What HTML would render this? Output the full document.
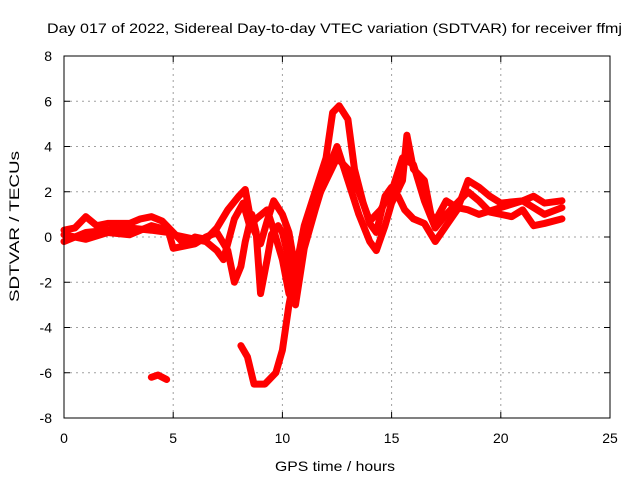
<!DOCTYPE html>
<html><head><meta charset="utf-8"><style>
body{margin:0;background:#fff}
svg text{font-family:"Liberation Sans",sans-serif;font-size:14px;fill:#000}
</style></head><body>
<svg id="c" width="640" height="480"></svg>
<script>
const xTicks=[0,5,10,15,20,25];
const yTicks=[-8,-6,-4,-2,0,2,4,6,8];
const trace1=[[0,0.3],[0.5,0.4],[1,0.9],[1.5,0.5],[2,0.6],[3,0.6],[3.5,0.8],[4,0.9],[4.5,0.7],[5,0.2],[5.5,-0.3],[6,0],[6.5,-0.1],[7,0.4],[7.5,1.2],[8,1.8],[8.3,2.1],[8.6,0.5],[9,-0.3],[9.3,0.7],[9.6,1.6],[10,1.0],[10.3,0.2],[10.6,-1.5],[11,0.5],[11.5,2],[12,3.5],[12.3,5.5],[12.6,5.8],[13,5.2],[13.3,3],[13.7,1.5],[14,0.6],[14.3,0.2],[14.7,1.8],[15,2.2],[15.3,1.8],[15.6,1.2],[16,0.8],[16.5,0.6],[17,-0.2],[17.5,0.5],[18,1.2],[18.5,2.5],[19,2.2],[19.5,1.8],[20,1.5],[21,1.6],[21.5,1.8],[22,1.5],[22.8,1.6]];
const trace2=[[0,-0.2],[1,0.2],[2,0.3],[3,0.4],[4,0.3],[4.8,0.2],[5,-0.5],[6,-0.3],[6.5,0],[7,0.2],[7.5,-0.6],[7.8,-2],[8.1,-1.3],[8.3,-0.2],[8.6,1],[8.8,0.2],[9,-2.5],[9.3,-1],[9.5,0.1],[9.8,0.5],[10,0.2],[10.3,-1],[10.5,-2.5]];
const trace3=[[8.1,-4.8],[8.4,-5.3],[8.7,-6.5],[9.2,-6.5],[9.7,-6],[10,-5],[10.3,-3],[10.6,-1.5],[11,0],[11.5,1.5],[12,2.5],[12.5,3.5],[13,3],[13.5,2],[14,0.7],[14.5,1.2],[15,2],[15.5,3.5],[16,3.2],[16.5,1.6],[17,0.4],[17.5,1],[18,1.5],[18.5,2],[19,1.6],[19.5,1.1],[20,1],[20.5,0.9],[21,1.2],[21.5,0.5],[22,0.6],[22.8,0.8]];
const trace4=[[0,0.1],[1,-0.1],[2,0.2],[3,0.1],[4,0.5],[4.8,0.3],[5,0.1],[6,-0.1],[6.5,-0.2],[7,-0.6],[7.3,-1.0],[7.8,0.8],[8.2,1.5],[8.5,0.5],[8.8,0.8],[9.3,1.2],[9.6,0.3],[10,-1],[10.3,-2.5],[10.6,-3],[11,-0.5],[11.5,1.2],[12,2.8],[12.5,4],[13,2.5],[13.5,1],[14,-0.2],[14.3,-0.6],[14.7,0.5],[15,1.5],[15.5,2.5],[15.7,4.5],[16,3],[16.5,2.5],[16.8,1],[17,0.7],[17.5,1.6],[18,1.3],[18.5,1.2],[19,1.0],[20,1.3],[21,1.6],[22,1.0],[22.8,1.3]];
const trace5=[[4,-6.2],[4.3,-6.1],[4.7,-6.3]];
const traces=[trace1,trace2,trace3,trace4,trace5];
const X0=64,X1=610,Y0=418,Y1=56;
const xs=h=>X0+(X1-X0)*h/25;
const ys=v=>Y0-(Y0-Y1)*(v+8)/16;
const svg=document.getElementById('c');const NS='http://www.w3.org/2000/svg';
function mk(t,a,p){const e=document.createElementNS(NS,t);for(const k in a)e.setAttribute(k,a[k]);(p||svg).appendChild(e);return e;}
xTicks.forEach(t=>{const x=xs(t);
 if(t>0&&t<25){const g=mk('line',{x1:x,x2:x,y1:Y0,y2:Y1,stroke:'#a0a0a0','stroke-dasharray':'2,4'});}
 mk('line',{x1:x,x2:x,y1:Y0,y2:Y0-6,stroke:'#000'});mk('line',{x1:x,x2:x,y1:Y1,y2:Y1+6,stroke:'#000'});
 const l=mk('text',{x:x,y:443,'text-anchor':'middle','font-size':'15'});l.textContent=t;});
yTicks.forEach(t=>{const y=ys(t);
 if(t>-8&&t<8){const g=mk('line',{x1:X0,x2:X1,y1:y,y2:y,stroke:'#a0a0a0','stroke-dasharray':'2,4'});}
 mk('line',{x1:X0,x2:X0+6,y1:y,y2:y,stroke:'#000'});mk('line',{x1:X1,x2:X1-6,y1:y,y2:y,stroke:'#000'});
 const l=mk('text',{x:52,y:y+5,'text-anchor':'end','font-size':'15'});l.textContent=t;});
traces.forEach(tr=>{const p=mk('polyline',{points:tr.map(d=>xs(d[0])+','+ys(d[1])).join(' '),fill:'none',stroke:'#ff0000','stroke-width':7,'stroke-linejoin':'round','stroke-linecap':'round'});
 });
const fr=mk('rect',{x:X0,y:Y1,width:X1-X0,height:Y0-Y1,fill:'none',stroke:'#000'});
const ti=mk('text',{x:47,y:33,'font-size':'15',textLength:575,lengthAdjust:'spacingAndGlyphs'});ti.textContent='Day 017 of 2022, Sidereal Day-to-day VTEC variation (SDTVAR) for receiver ffmj';
const xt=mk('text',{x:275,y:471,'font-size':'15',textLength:120,lengthAdjust:'spacingAndGlyphs'});xt.textContent='GPS time / hours';
const yt=mk('text',{x:19,y:302,'font-size':'15',textLength:151,lengthAdjust:'spacingAndGlyphs',transform:'rotate(-90 19 302)'});yt.textContent='SDTVAR / TECUs';
</script>
</body></html>
